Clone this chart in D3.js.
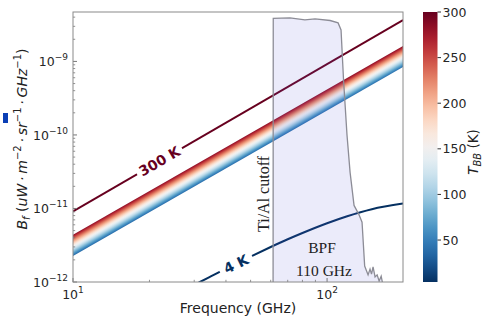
<!DOCTYPE html>
<html><head><meta charset="utf-8">
<script src="https://cdn.jsdelivr.net/npm/d3@7"></script>
<style>
html,body{margin:0;padding:0;background:#fff;}
svg{display:block;font-family:"DejaVu Sans",sans-serif;}
</style></head>
<body><svg id="c" width="483" height="322"></svg>
<script>
// ---------- data ----------
const lineFreq = [10, 199];                 // GHz, straight lines on log-log
const line300K = [9.13e-12, 3.65e-9];       // 300 K blackbody
const bandTop = [4.4e-12, 1.62e-9];         // colour band (hot edge)
const bandBottom = [2.25e-12, 8.4e-10];     // colour band (cold edge)
const bandTempTop = 285, bandTempBottom = 35;

const freq4K = [30, 31.6, 35, 40, 50, 60, 70, 80, 100, 120, 150, 199];
const val4K  = [9.1e-13, 1.0e-12, 1.2e-12, 1.52e-12, 2.22e-12, 2.99e-12, 3.81e-12, 4.64e-12, 6.30e-12, 7.84e-12, 9.77e-12, 1.165e-11];

const bpfFreq = [61.3, 61.4, 71.5, 81.8, 89.7, 102.8, 110.5, 113.5, 116.1, 119.8, 123.2, 127.7, 133.6, 137.3, 140.6, 145, 147.6, 149.6, 151.7, 154.5, 157.4, 160.3, 163.3, 166];
const bpfVal  = [5e-13, 3.85e-9, 3.9e-9, 3.67e-9, 3.78e-9, 3.6e-9, 3.34e-9, 2.68e-9, 5.6e-10, 1.0e-10, 3.1e-11, 1.1e-11, 8.2e-12, 6.5e-12, 1.65e-12, 1.25e-12, 1.5e-12, 1.28e-12, 1.6e-12, 1.17e-12, 1.25e-12, 1.03e-12, 1.2e-12, 9e-13];

const xMajor = [10, 100];
const xMinor = [20, 30, 40, 50, 60, 70, 80, 90];
const yMajorExp = [-12, -11, -10, -9];
const cbTicks = [50, 100, 150, 200, 250, 300];
const cbDomain = [4, 300];

// ---------- layout ----------
const svg = d3.select("#c");
const X0 = 73, X1 = 403, Y0 = 12, Y1 = 282;
const x = d3.scaleLog().domain([10, 199]).range([X0, X1]);
const y = d3.scaleLog().domain([1e-12, 4.7e-9]).range([Y1, Y0]);
const tColor = T => d3.interpolateRdBu(1 - (T - cbDomain[0]) / (cbDomain[1] - cbDomain[0]));

const defs = svg.append("defs");
defs.append("clipPath").attr("id", "plotclip").append("rect")
  .attr("x", X0).attr("y", Y0).attr("width", X1 - X0).attr("height", Y1 - Y0);

const plot = svg.append("g").attr("clip-path", "url(#plotclip)");

// ---------- band (gradient polygon) ----------
const pTopL = [x(lineFreq[0]), y(bandTop[0])], pTopR = [x(lineFreq[1]), y(bandTop[1])];
const pBotL = [x(lineFreq[0]), y(bandBottom[0])], pBotR = [x(lineFreq[1]), y(bandBottom[1])];
const m = (pTopR[1] - pTopL[1]) / (pTopR[0] - pTopL[0]);
const nrm = Math.sqrt(1 + m * m);
const ax = (X0 + X1) / 2, ay = pTopL[1] + m * (ax - pTopL[0]);
const d = (pBotL[1] + m * (ax - pBotL[0])) - ay;
const dist = d / nrm;
const bx = ax + (-m / nrm) * dist, by = ay + (1 / nrm) * dist;
const grad = defs.append("linearGradient").attr("id", "bandgrad")
  .attr("gradientUnits", "userSpaceOnUse")
  .attr("x1", ax).attr("y1", ay).attr("x2", bx).attr("y2", by);
d3.range(0, 1.0001, 0.05).forEach(o => {
  grad.append("stop").attr("offset", o)
    .attr("stop-color", tColor(bandTempTop + (bandTempBottom - bandTempTop) * o));
});
plot.append("path")
  .attr("d", `M${pTopL}L${pTopR}L${pBotR}L${pBotL}Z`)
  .attr("fill", "url(#bandgrad)");

// ---------- labels gaps (masks) ----------
function lineAt(f, fs, vs) {
  const t = (Math.log10(f) - Math.log10(fs[0])) / (Math.log10(fs[1]) - Math.log10(fs[0]));
  return Math.pow(10, Math.log10(vs[0]) + t * (Math.log10(vs[1]) - Math.log10(vs[0])));
}
const lab300 = {f: 21.9};
lab300.px = x(lab300.f); lab300.py = y(lineAt(lab300.f, lineFreq, line300K));
lab300.ang = Math.atan2(y(line300K[1]) - y(line300K[0]), x(lineFreq[1]) - x(lineFreq[0])) * 180 / Math.PI;

const lab4 = {f: 43.8, v: 1.76e-12};
lab4.px = x(lab4.f); lab4.py = y(lab4.v);
lab4.ang = Math.atan2(y(val4K[4]) - y(val4K[3]), x(freq4K[4]) - x(freq4K[3])) * 180 / Math.PI;

function makeMask(id, lab, w) {
  const mk = defs.append("mask").attr("id", id).attr("maskUnits", "userSpaceOnUse")
    .attr("x", 0).attr("y", 0).attr("width", 483).attr("height", 322);
  mk.append("rect").attr("width", 483).attr("height", 322).attr("fill", "#fff");
  mk.append("rect").attr("x", -w / 2).attr("y", -6).attr("width", w).attr("height", 12)
    .attr("fill", "#000")
    .attr("transform", `translate(${lab.px},${lab.py}) rotate(${lab.ang})`);
}
makeMask("m300", lab300, 52);
makeMask("m4", lab4, 36);

// ---------- 300 K line ----------
const lineGen = d3.line().x(d => x(d[0])).y(d => y(d[1]));
plot.append("path")
  .attr("d", lineGen(lineFreq.map((f, i) => [f, line300K[i]])))
  .attr("fill", "none").attr("stroke", "#67001f").attr("stroke-width", 2)
  .attr("mask", "url(#m300)");

// ---------- 4 K curve ----------
plot.append("path")
  .attr("d", d3.line().curve(d3.curveMonotoneX).x(d => x(d[0])).y(d => y(d[1]))(freq4K.map((f, i) => [f, val4K[i]])))
  .attr("fill", "none").attr("stroke", "#053061").attr("stroke-width", 2)
  .attr("mask", "url(#m4)");

// ---------- BPF ----------
const bpfPts = bpfFreq.map((f, i) => [x(f), y(bpfVal[i])]);
const base = y(5e-13);
const fillPts = bpfPts.concat([[bpfPts[bpfPts.length - 1][0], base], [bpfPts[0][0], base]]);
plot.append("path")
  .attr("d", "M" + fillPts.join("L") + "Z")
  .attr("fill", "#5a5ad2").attr("fill-opacity", 0.12);
plot.append("path")
  .attr("d", "M" + bpfPts.join("L"))
  .attr("fill", "none").attr("stroke", "#8c8c96").attr("stroke-width", 1.3);

// ---------- labels in plot ----------
svg.append("text")
  .attr("transform", `translate(${lab300.px},${lab300.py}) rotate(${lab300.ang})`)
  .attr("text-anchor", "middle").attr("dy", "0.36em")
  .attr("font-size", 14).attr("font-weight", "bold").attr("fill", "#67001f")
  .text("300 K");
svg.append("text")
  .attr("transform", `translate(${lab4.px},${lab4.py}) rotate(${lab4.ang})`)
  .attr("text-anchor", "middle").attr("dy", "0.36em")
  .attr("font-size", 14).attr("font-weight", "bold").attr("fill", "#053061")
  .text("4 K");

const serif = "'Liberation Serif','Times New Roman',serif";
svg.append("text")
  .attr("transform", "translate(269,194) rotate(-90)")
  .attr("text-anchor", "middle").attr("font-family", serif)
  .attr("font-size", 16).attr("fill", "#222").text("Ti/Al cutoff");
svg.append("text").attr("x", 322).attr("y", 253).attr("text-anchor", "middle")
  .attr("font-family", serif).attr("font-size", 15.5).attr("fill", "#222").text("BPF");
svg.append("text").attr("x", 324).attr("y", 276).attr("text-anchor", "middle")
  .attr("font-family", serif).attr("font-size", 15.5).attr("fill", "#222").text("110 GHz");

// ---------- axes ----------
const axG = svg.append("g");
const tickCol = "#777";
xMajor.forEach(v => axG.append("line").attr("x1", x(v)).attr("x2", x(v)).attr("y1", Y1).attr("y2", Y1 - 4).attr("stroke", tickCol));
xMinor.forEach(v => axG.append("line").attr("x1", x(v)).attr("x2", x(v)).attr("y1", Y1).attr("y2", Y1 - 2.2).attr("stroke", tickCol).attr("stroke-width", 0.8));
const yMinor = [];
for (let e = -12; e <= -9; e++) for (let k = 2; k <= 9; k++) { const v = k * Math.pow(10, e); if (v <= y.domain()[1]) yMinor.push(v); }
yMajorExp.forEach(e => { const v = Math.pow(10, e); axG.append("line").attr("x1", X0).attr("x2", X0 + 4).attr("y1", y(v)).attr("y2", y(v)).attr("stroke", tickCol); });
yMinor.forEach(v => axG.append("line").attr("x1", X0).attr("x2", X0 + 2.2).attr("y1", y(v)).attr("y2", y(v)).attr("stroke", tickCol).attr("stroke-width", 0.8));

// frame
svg.append("rect").attr("x", X0).attr("y", Y0).attr("width", X1 - X0).attr("height", Y1 - Y0)
  .attr("fill", "none").attr("stroke", "#8a8a8a").attr("stroke-width", 1);

// tick labels
const lblCol = "#262626";
yMajorExp.forEach(e => {
  const t = svg.append("text").attr("x", 68).attr("y", y(Math.pow(10, e)) + 5)
    .attr("text-anchor", "end").attr("font-size", 12.5).attr("fill", lblCol);
  t.append("tspan").text("10");
  t.append("tspan").attr("dy", -6).attr("font-size", 9).text("\u2212" + (-e));
});
[[10, "1"], [100, "2"]].forEach(([v, s]) => {
  const t = svg.append("text").attr("x", x(v)).attr("y", 299)
    .attr("text-anchor", "middle").attr("font-size", 12.5).attr("fill", lblCol);
  t.append("tspan").text("10");
  t.append("tspan").attr("dy", -6).attr("font-size", 9).text(s);
});

// axis titles
svg.append("text").attr("x", (X0 + X1) / 2).attr("y", 313).attr("text-anchor", "middle")
  .attr("font-size", 14).attr("fill", "#222").text("Frequency (GHz)");

const yl = svg.append("text").attr("transform", "translate(27,139) rotate(-90)")
  .attr("text-anchor", "middle").attr("font-size", 14).attr("fill", "#222");
yl.append("tspan").attr("font-style", "italic").text("B");
yl.append("tspan").attr("font-style", "italic").attr("font-size", 10).attr("dy", 3).text("f");
yl.append("tspan").attr("dy", -3).text(" (");
yl.append("tspan").attr("font-style", "italic").text("uW\u2009\u00b7\u2009m");
yl.append("tspan").attr("font-size", 10).attr("dy", -6).text("\u22122");
yl.append("tspan").attr("dy", 6).attr("font-style", "italic").text("\u2009\u00b7\u2009sr");
yl.append("tspan").attr("font-size", 10).attr("dy", -6).text("\u22121");
yl.append("tspan").attr("dy", 6).attr("font-style", "italic").text("\u2009\u00b7\u2009GHz");
yl.append("tspan").attr("font-size", 10).attr("dy", -6).text("\u22121");
yl.append("tspan").attr("dy", 6).text(")");

// small blue marker at left edge
svg.append("rect").attr("x", 3).attr("y", 113).attr("width", 5).attr("height", 10).attr("fill", "#0b3fb5");

// ---------- colorbar ----------
const CBX = 423, CBW = 14.5;
const cy = d3.scaleLinear().domain(cbDomain).range([Y1, Y0]);
const cg = defs.append("linearGradient").attr("id", "cbgrad").attr("x1", 0).attr("y1", 1).attr("x2", 0).attr("y2", 0);
d3.range(0, 1.0001, 0.05).forEach(o => cg.append("stop").attr("offset", o)
  .attr("stop-color", tColor(cbDomain[0] + o * (cbDomain[1] - cbDomain[0]))));
svg.append("rect").attr("x", CBX).attr("y", Y0).attr("width", CBW).attr("height", Y1 - Y0).attr("fill", "url(#cbgrad)");
cbTicks.forEach(v => {
  svg.append("line").attr("x1", CBX + CBW).attr("x2", CBX + CBW + 3.5).attr("y1", cy(v)).attr("y2", cy(v)).attr("stroke", "#333");
  svg.append("text").attr("x", CBX + CBW + 5).attr("y", cy(v) + 4.5).attr("font-size", 12.5).attr("fill", lblCol).text(v);
});
const cl = svg.append("text").attr("transform", "translate(478,152) rotate(-90)")
  .attr("text-anchor", "middle").attr("font-size", 13.5).attr("fill", "#222");
cl.append("tspan").attr("font-style", "italic").text("T");
cl.append("tspan").attr("font-style", "italic").attr("font-size", 10).attr("dy", 3).text("BB");
cl.append("tspan").attr("dy", -3).text(" (K)");
</script></body></html>
